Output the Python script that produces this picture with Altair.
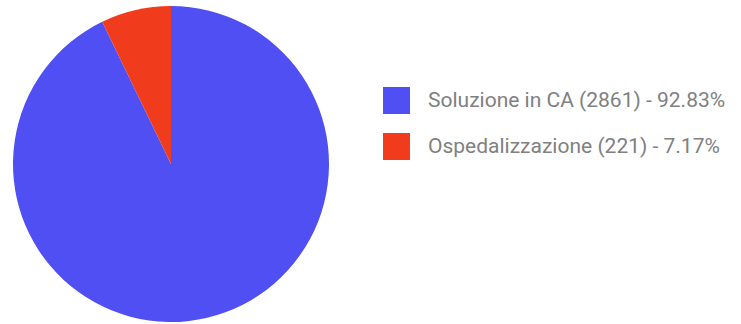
import altair as alt
import pandas as pd

categories = ["Soluzione in CA (2861) - 92.83%", "Ospedalizzazione (221) - 7.17%"]
values = [2861, 221]
order = [1, 2]
colors = ["#4f4ff4", "#f03c1c"]

df = pd.DataFrame({"cat": categories, "val": values, "ord": order})

chart = alt.Chart(df).mark_arc(radius=158).encode(
    theta=alt.Theta("val:Q", stack=True),
    order=alt.Order("ord:Q"),
    x=alt.value(171),
    y=alt.value(164),
    color=alt.Color(
        "cat:N",
        sort=categories,
        scale=alt.Scale(domain=categories, range=colors),
        legend=alt.Legend(
            title=None,
            orient="none",
            legendX=383,
            legendY=87,
            symbolType="square",
            symbolSize=729,
            symbolStrokeWidth=0,
            labelFontSize=21,
            labelFont="Roboto",
            labelColor="#808080",
            labelOffset=18,
            rowPadding=19,
            labelLimit=400,
        ),
    ),
).properties(
    width=741, height=324, padding=0, autosize=alt.AutoSizeParams(type="none")
).configure_view(stroke=None)

chart.save("out.html", embed_options={"renderer": "svg", "actions": False})
